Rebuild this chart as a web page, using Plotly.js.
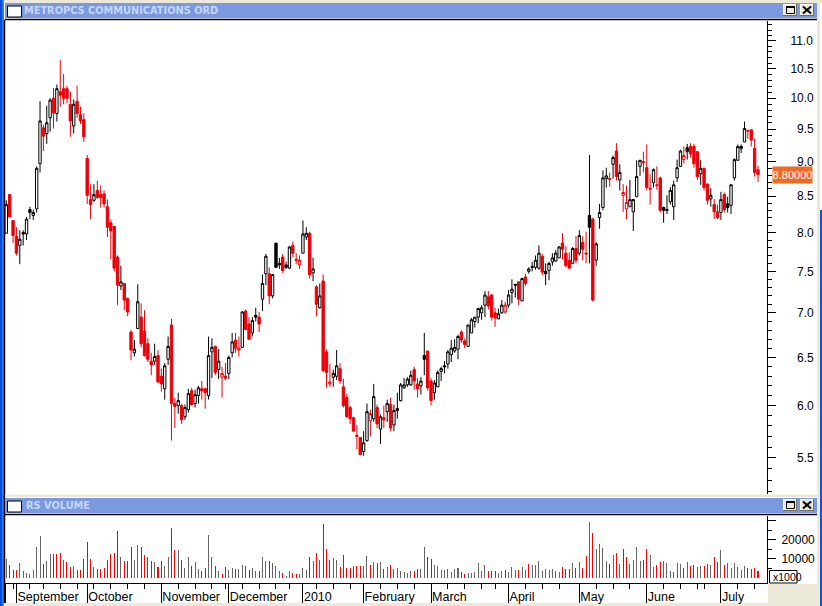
<!DOCTYPE html>
<html><head><meta charset="utf-8">
<script src="https://cdn.plot.ly/plotly-3.0.1.min.js"></script>
<style>html,body{margin:0;padding:0;background:#fff}#c{width:822px;height:606px}</style>
</head><body><div id="c"></div>
<script>
var opens=[7.99,8.52,8.16,7.95,7.83,8.00,7.98,8.31,8.23,8.32,
8.97,9.52,9.43,9.68,10.00,9.75,10.11,10.16,10.16,9.90,
9.55,9.95,9.73,9.65,9.05,8.45,8.44,8.58,8.52,8.53,
8.35,8.13,8.08,7.68,7.32,7.35,7.17,6.78,6.55,6.82,
6.95,6.79,6.65,6.46,6.46,6.52,6.30,6.17,6.48,6.86,
6.02,6.00,6.00,5.89,5.96,6.15,6.02,6.10,6.17,6.17,
6.10,6.56,6.62,6.37,6.29,6.30,6.33,6.55,6.69,6.58,
6.61,7.02,6.87,6.77,6.97,6.95,7.16,7.47,7.47,7.20,
7.86,7.60,7.68,7.58,7.54,7.83,7.65,7.58,7.73,7.94,
7.99,7.48,7.31,7.06,7.38,6.56,6.22,6.29,6.30,6.38,
6.19,6.08,5.98,5.88,5.71,5.69,5.56,5.66,5.85,5.87,
5.98,5.77,5.88,5.94,6.01,5.81,5.97,6.05,6.18,6.21,
6.21,6.37,6.22,6.20,6.52,6.57,6.25,6.13,6.19,6.35,
6.41,6.43,6.53,6.57,6.59,6.78,6.68,6.62,6.77,6.90,
6.95,7.00,7.09,7.19,7.21,7.00,6.93,7.00,7.01,7.09,
7.24,7.34,7.37,7.14,7.43,7.50,7.56,7.55,7.54,7.69,
7.50,7.51,7.62,7.63,7.67,7.86,7.73,7.64,7.60,7.79,
7.73,7.87,7.73,8.23,8.18,7.64,8.20,8.34,8.75,8.75,
8.96,9.16,8.73,8.51,8.32,8.35,8.28,8.49,8.93,9.00,
8.91,8.61,8.69,8.66,8.76,8.34,8.31,8.42,8.35,8.76,
8.93,9.03,9.21,9.23,9.23,9.15,8.82,8.90,8.67,8.46,
8.38,8.28,8.27,8.52,8.39,8.37,8.76,9.02,9.23,9.30,
9.48,9.49,9.20,8.88];
var highs=[8.44,8.52,8.16,8.07,8.03,8.03,8.21,8.35,8.31,8.93,
9.95,9.57,9.87,10.00,10.17,10.23,10.66,10.41,10.21,10.11,
9.98,10.21,9.86,9.75,9.10,8.67,8.67,8.72,8.65,8.58,
8.45,8.17,8.08,7.70,7.57,7.35,7.18,6.80,6.69,7.34,
7.11,7.03,6.71,6.55,6.65,6.58,6.38,6.44,6.73,6.93,
6.08,6.13,6.02,6.01,6.17,6.18,6.16,6.20,6.25,6.18,
6.73,6.71,6.63,6.59,6.40,6.44,6.52,6.77,6.77,6.73,
7.02,7.04,6.95,6.95,7.06,7.01,7.46,7.72,7.55,7.46,
7.86,7.67,7.72,7.62,7.82,7.88,7.73,7.70,8.16,8.07,
8.01,7.67,7.33,7.35,7.46,6.58,6.43,6.37,6.58,6.44,
6.27,6.12,6.00,5.89,5.81,5.69,5.75,6.02,5.96,6.22,
6.01,5.91,6.00,6.06,6.08,6.01,6.13,6.23,6.28,6.29,
6.36,6.40,6.28,6.29,6.77,6.57,6.28,6.26,6.36,6.40,
6.46,6.58,6.69,6.70,6.75,6.80,6.71,6.86,6.94,6.95,
7.06,7.09,7.26,7.26,7.22,7.06,7.05,7.15,7.13,7.27,
7.40,7.34,7.37,7.42,7.47,7.55,7.62,7.70,7.83,7.72,
7.60,7.62,7.73,7.77,7.82,7.99,7.82,7.74,7.81,7.95,
8.03,7.95,8.01,9.10,8.20,7.87,8.39,8.87,8.91,8.84,
9.09,9.28,8.96,8.67,8.65,8.73,8.46,9.02,9.02,9.15,
9.26,8.81,8.90,8.93,8.78,8.35,8.51,8.63,8.72,9.03,
9.18,9.23,9.27,9.28,9.27,9.16,9.02,8.91,8.68,8.61,
8.46,8.38,8.56,8.55,8.49,8.67,9.05,9.26,9.26,9.62,
9.49,9.49,9.35,8.94];
var lows=[7.99,8.21,7.86,7.70,7.59,7.83,7.90,8.18,8.17,8.27,
8.84,9.16,9.27,9.46,9.51,9.62,9.86,9.90,9.92,9.38,
9.43,9.68,9.58,9.30,8.39,8.18,8.42,8.46,8.34,8.34,
7.94,7.65,7.50,7.09,7.27,7.03,6.96,6.47,6.51,6.82,
6.61,6.51,6.45,6.31,6.42,6.23,6.14,6.06,6.42,5.66,
5.78,5.92,5.82,5.86,5.93,6.00,5.98,6.02,6.06,5.97,
6.06,6.28,6.31,6.27,6.08,6.26,6.27,6.50,6.55,6.51,
6.61,6.80,6.69,6.73,6.90,6.78,7.02,7.33,7.10,7.17,
7.54,7.53,7.48,7.53,7.53,7.68,7.59,7.53,7.73,7.90,
7.41,7.38,6.96,7.05,6.34,6.18,6.19,6.19,6.26,6.22,
5.98,5.88,5.82,5.75,5.58,5.53,5.52,5.65,5.70,5.84,
5.78,5.63,5.78,5.84,5.75,5.75,5.87,6.04,6.17,6.19,
6.20,6.16,6.08,6.11,6.31,6.15,6.00,6.06,6.19,6.25,
6.33,6.38,6.45,6.55,6.48,6.66,6.60,6.62,6.77,6.83,
6.88,6.92,6.95,7.04,6.91,6.84,6.93,6.99,6.99,7.06,
7.11,7.18,7.09,7.14,7.32,7.47,7.50,7.52,7.52,7.45,
7.33,7.39,7.57,7.62,7.67,7.65,7.55,7.54,7.59,7.60,
7.70,7.64,7.60,7.60,7.13,7.57,8.05,8.30,8.62,8.63,
8.75,8.72,8.58,8.28,8.18,8.35,8.02,8.49,8.79,8.84,
8.58,8.38,8.62,8.59,8.27,8.13,8.25,8.38,8.17,8.70,
8.93,8.97,9.03,9.06,8.91,8.73,8.66,8.58,8.38,8.35,
8.18,8.18,8.17,8.27,8.27,8.25,8.72,9.02,9.13,9.30,
9.35,9.23,8.78,8.70];
var closes=[8.38,8.21,7.96,7.73,7.91,7.98,8.18,8.27,8.27,8.90,
9.63,9.39,9.60,9.97,9.76,10.16,10.05,10.00,10.00,9.63,
9.90,9.75,9.63,9.38,8.51,8.38,8.52,8.48,8.48,8.39,
8.07,8.02,7.54,7.33,7.37,7.15,7.01,6.58,6.59,7.13,
6.65,6.52,6.48,6.42,6.51,6.24,6.22,6.41,6.62,6.02,
5.99,6.05,5.86,5.98,6.12,6.01,6.11,6.18,6.15,6.13,
6.52,6.61,6.34,6.46,6.33,6.28,6.50,6.67,6.60,6.60,
7.01,6.81,6.70,6.91,6.95,6.87,7.35,7.69,7.20,7.46,
7.55,7.58,7.51,7.55,7.81,7.73,7.64,7.64,7.98,7.99,
7.46,7.53,7.10,7.20,6.36,6.34,6.24,6.33,6.41,6.25,
6.00,5.89,5.87,5.75,5.70,5.53,5.64,5.94,5.92,6.09,
5.82,5.89,5.86,6.02,5.78,5.95,5.95,6.21,6.21,6.27,
6.31,6.25,6.17,6.25,6.48,6.18,6.05,6.23,6.34,6.38,
6.40,6.56,6.60,6.61,6.73,6.69,6.64,6.86,6.92,6.95,
7.05,7.06,7.21,7.08,6.95,6.94,6.99,7.09,7.09,7.21,
7.28,7.33,7.16,7.41,7.35,7.53,7.55,7.64,7.73,7.49,
7.47,7.60,7.67,7.73,7.81,7.78,7.57,7.54,7.79,7.64,
7.96,7.78,7.72,8.07,7.15,7.85,8.27,8.76,8.79,8.74,
9.06,8.78,8.84,8.55,8.41,8.45,8.45,8.78,9.02,8.99,
8.62,8.60,8.88,8.65,8.30,8.30,8.30,8.58,8.66,8.91,
9.16,9.09,9.15,9.12,8.97,8.78,8.90,8.62,8.44,8.51,
8.28,8.20,8.45,8.31,8.34,8.66,9.03,9.23,9.20,9.51,
9.47,9.33,8.84,8.81];
var candleRed=[0,1,1,1,0,0,0,0,0,0, 0,1,0,0,1,0,1,1,1,1, 0,1,1,1,1,1,0,1,1,1,
1,1,1,1,0,1,1,1,0,0, 1,1,1,1,0,1,1,0,0,1, 1,0,1,0,0,1,0,0,1,1,
0,0,1,0,1,1,0,0,1,1, 0,1,1,0,0,1,0,0,1,0, 0,0,1,0,0,1,1,1,0,0,
1,0,1,0,1,1,1,0,0,1, 1,1,1,1,1,1,0,0,1,0, 1,0,1,0,1,0,0,0,0,0,
0,1,1,0,0,1,1,0,0,0, 0,0,0,0,0,1,1,0,0,0, 0,0,0,1,1,1,0,0,1,0,
0,0,1,0,1,0,0,0,0,1, 0,0,0,0,0,1,1,1,0,1, 0,1,1,0,1,0,0,0,0,1,
0,1,0,1,1,0,0,0,0,1, 1,1,0,1,1,0,0,0,0,0, 0,1,0,1,1,1,0,1,1,0,
1,1,0,1,0,0,0,0,0,0, 1,1,1,1];
var volumes=[9800,6700,4000,4000,7700,3500,2500,1900,4000,16100,
21900,7200,8800,12500,12500,12500,13000,9300,8200,5600,
6100,4000,4000,9800,18800,9800,5600,4600,4600,5100,
9300,12500,13000,24600,10900,8800,8800,16100,9300,17200,
16100,11900,10900,8800,8200,5600,8800,6100,10900,26100,
14600,14600,9300,5100,10900,6100,8200,4600,3500,5100,
22500,10900,6100,3500,1900,5600,4000,5100,4600,4600,
6700,6100,4000,5100,3500,3500,10900,8800,8800,7700,
6100,3500,2500,900,3500,2500,1900,1900,5100,4000,
10900,8800,13000,9300,28200,15100,9300,10300,9300,5600,
11900,5100,5100,6100,6100,6100,6100,11400,6700,8200,
7700,8200,4600,5600,6700,4600,5100,3500,3000,2500,
3500,3500,4600,4600,16100,10900,9800,6700,6100,4000,
4000,4600,3000,4600,5100,3000,1900,2500,2500,3000,
7700,3500,6700,3500,3500,3500,2500,3500,4000,3000,
5600,4000,4000,5600,4000,7200,6700,6700,8800,3500,
4600,4000,4600,3500,3000,5600,4600,4600,7700,5100,
8200,5100,11400,29300,23500,15100,17700,15600,8800,7200,
11900,13000,7200,15100,10900,7200,9300,16100,8800,9300,
15100,11900,5600,6700,8200,8800,7700,3500,3000,7700,
7200,5100,8200,6100,6700,5600,6100,6100,7200,6700,
10900,8200,14600,6700,7700,5100,7700,5600,4000,6100,
5100,4600,5100,3500];
var volumeRed=[0,1,1,1,0,0,0,0,0,0, 0,1,0,0,1,1,1,0,1,1, 0,1,1,1,1,1,0,1,1,1,
1,1,1,1,0,1,1,1,0,0, 1,1,1,1,0,1,1,0,0,1, 1,0,1,0,0,1,0,0,1,1,
0,0,1,0,1,1,0,0,1,0, 0,1,1,0,0,1,0,0,1,0, 0,0,1,0,0,1,1,0,0,0,
1,0,1,0,1,1,1,0,0,1, 1,1,1,1,1,1,0,0,1,0, 1,0,1,0,1,0,0,0,0,0,
0,1,1,0,0,1,1,0,0,0, 0,0,0,0,0,1,1,0,0,0, 0,0,0,1,1,1,0,0,1,0,
0,0,1,0,0,1,0,0,0,0, 0,0,0,0,0,1,1,1,0,1, 0,1,1,0,1,0,0,0,0,1,
0,1,0,1,1,0,0,0,0,1, 1,0,0,1,1,0,0,0,0,0, 0,1,0,1,1,0,0,1,1,0,
1,1,0,1,0,0,0,0,0,0, 1,1,1,1];
var monthTicks=[-0.38,3,24,46,66,88,106,126,149,170,190,212];
var monthLabels=['','September','October','November','December','2010','February','March','April','May','June','July'];
var weekTicks=[2,7,11,16,21,26,31,36,41,51,56,61,65,70,75,80,84,92,97,102,111,116,121,131,136,141,145,154,159,164,175,180,185,195,200,205,207,217,222];
var priceTicks=[5.5,6,6.5,7,7.5,8,8.5,9,9.5,10,10.5,11];
var priceLabels=['\u00a0\u00a05.5','\u00a0\u00a06.0','\u00a0\u00a06.5','\u00a0\u00a07.0','\u00a0\u00a07.5','\u00a0\u00a08.0','\u00a0\u00a08.5','\u00a0\u00a09.0','\u00a0\u00a09.5','10.0','10.5','11.0'];
var priceMinor=[5.2,5.3,5.4,5.6,5.7,5.8,5.9,6.1,6.2,6.3,6.4,6.6,6.7,6.8,6.9,7.1,7.2,7.3,7.4,7.6,7.7,7.8,7.9,8.1,8.2,8.3,8.4,8.6,8.7,8.8,8.9,9.1,9.2,9.3,9.4,9.6,9.7,9.8,9.9,10.1,10.2,10.3,10.4,10.6,10.7,10.8,10.9,11.1,11.2,11.3];
var volTicks=[10000,20000,30000];
var volLabels=['10000','20000',''];
var volMinor=[5000,15000,25000];
var lastPrice=8.8;

var BLACK='#000000',RED='#ea0008',GREY='#666666',VRED='#ff0000',BEIGE='#ece9d8',BAR='#7b99e0',TXT='#c6d6f8';
var idx=opens.map(function(_,i){return i;});
function subset(flag,arr){return arr.filter(function(_,i){return candleRed[i]===flag;});}
function candle(flag,col,down){
  return {type:'candlestick',x:subset(flag,idx),open:subset(flag,opens),high:subset(flag,highs),low:subset(flag,lows),close:subset(flag,closes),
    xaxis:'x',yaxis:'y',whiskerwidth:0,hoverinfo:'skip',showlegend:false,
    increasing:{line:{color:col,width:1},fillcolor:'#ffffff'},
    decreasing:{line:{color:col,width:1},fillcolor:down}};
}
var traces=[candle(0,BLACK,BLACK),candle(1,RED,RED),
  {type:'bar',x:idx,y:volumes,width:0.3,xaxis:'x',yaxis:'y2',showlegend:false,hoverinfo:'skip',
   marker:{color:volumeRed.map(function(r){return r?VRED:GREY;}),line:{width:0}}}];

/* window chrome, in screen pixels, mapped to paper coordinates */
var L=5,R=767,T=21,B=583;
function X(p){return (p-L)/(R-L);} function Y(p){return (B-p)/(B-T);}
function rect(x0,y0,x1,y1,fill,line){return {type:'rect',xref:'paper',yref:'paper',x0:X(x0),x1:X(x1),y0:Y(y0),y1:Y(y1),fillcolor:fill,line:line?{color:line,width:1}:{width:0},layer:'below'};}
function seg(x0,y0,x1,y1,c,w){return {type:'line',xref:'paper',yref:'paper',x0:X(x0),x1:X(x1),y0:Y(y0),y1:Y(y1),line:{color:c||BLACK,width:w||1},layer:'below'};}
function bar(y0){
  var s=[rect(5,y0,817,y0+15,BAR),seg(5,y0+16.5,817,y0+16.5,BLACK,1.5),rect(7.5,y0+3,21.5,y0+14,'#ffffff',BLACK)];
  [783,800].forEach(function(x,k){
    s.push(rect(x,y0+1,x+14,y0+13,'#716f64'),rect(x,y0+1,x+13,y0+12,'#ffffff'),rect(x+1,y0+2,x+13,y0+12,BEIGE));
    if(k===0){s.push(rect(x+3.5,y0+3.5,x+11.5,y0+10.5,BEIGE,BLACK),seg(x+3,y0+4,x+12,y0+4,BLACK,2));}
    else{s.push(seg(x+3,y0+3.5,x+11,y0+10.5,BLACK,2),seg(x+11,y0+3.5,x+3,y0+10.5,BLACK,2));}
  });
  return s;
}
var shapes=[rect(0,0,822,3,BEIGE),rect(817,0,820,606,BEIGE),rect(0,0,2,606,'#0a4cd6'),rect(2,0,4,606,'#2a7cf5'),
  rect(820,210,822,606,'#0a55e0'),seg(4.5,20,4.5,603,BLACK,1.5),
  rect(5,494.5,817,497,BEIGE),rect(768,584,817,603,BEIGE),rect(5,603,820,606,BEIGE)]
  .concat(bar(3)).concat(bar(498));
shapes.push(Object.assign(rect(769.5,570.5,797,583,'#ffffff',BLACK),{layer:'above'}));

var font={family:'"Liberation Sans",Arial,sans-serif',size:12,color:BLACK};
var layout={width:822,height:606,margin:{l:L,r:822-R,t:T,b:606-B,pad:0},
  paper_bgcolor:'#ffffff',plot_bgcolor:'#ffffff',showlegend:false,font:font,dragmode:false,bargap:0,boxmode:'overlay',boxgap:0.3,boxgroupgap:0,
  title:{text:'METROPCS COMMUNICATIONS ORD',x:24/822,xanchor:'left',y:1-11/606,yanchor:'middle',font:{family:'"DejaVu Sans",sans-serif',size:9.8,weight:700,color:TXT},pad:{t:0,b:0,l:0,r:0}},
  xaxis:{anchor:'y2',domain:[0,1],range:[-0.39,225.67],rangeslider:{visible:false},showgrid:false,zeroline:false,
    showline:true,linecolor:BLACK,linewidth:1,ticks:'outside',ticklen:19,tickwidth:1,tickcolor:BLACK,
    tickmode:'array',tickvals:monthTicks,ticktext:monthLabels,ticklabelposition:'outside right',ticklabelstandoff:2,tickfont:{family:font.family,size:12.5,color:BLACK},tickangle:0,
    minor:{tickmode:'array',tickvals:weekTicks,ticks:'outside',ticklen:5,tickwidth:1,tickcolor:BLACK,showgrid:false}},
  yaxis:{type:'log',domain:[Y(494),1],anchor:'x',side:'right',range:[Math.log10(5.18),Math.log10(11.37)],showgrid:false,zeroline:false,
    showline:true,linecolor:BLACK,linewidth:1,ticks:'outside',ticklen:8,tickwidth:1,tickcolor:BLACK,
    tickmode:'array',tickvals:priceTicks,ticktext:priceLabels,ticklabelstandoff:12,tickfont:font,
    minor:{tickmode:'array',tickvals:priceMinor,ticks:'outside',ticklen:4,tickwidth:1,tickcolor:BLACK,showgrid:false}},
  yaxis2:{domain:[0,Y(516)],anchor:'x',side:'right',range:[-2630,32600],showgrid:false,zeroline:false,
    showline:true,linecolor:BLACK,linewidth:1,ticks:'outside',ticklen:8,tickwidth:1,tickcolor:BLACK,
    tickmode:'array',tickvals:volTicks,ticktext:volLabels,ticklabelstandoff:3,tickfont:font,
    minor:{tickmode:'array',tickvals:volMinor,ticks:'outside',ticklen:4,tickwidth:1,tickcolor:BLACK,showgrid:false}},
  shapes:shapes,
  annotations:[
    {xref:'paper',yref:'paper',x:X(24),y:Y(505.5),xanchor:'left',yanchor:'middle',showarrow:false,text:'RS VOLUME',font:{family:'"DejaVu Sans",sans-serif',size:9.8,weight:700,color:TXT}},
    {xref:'paper',yref:'y',x:X(772),y:Math.log10(lastPrice),xanchor:'left',yanchor:'middle',showarrow:false,text:lastPrice.toFixed(5),font:{family:font.family,size:11,color:'#ffffff'},bgcolor:'#f26a21',width:39,height:16,borderpad:0,align:'center'},
    {xref:'paper',yref:'paper',x:X(770.5),y:Y(577),xanchor:'left',yanchor:'middle',showarrow:false,text:'x1000',font:{family:font.family,size:10.5,color:BLACK}}
  ]};
Plotly.newPlot('c',traces,layout,{staticPlot:true,displayModeBar:false});
</script></body></html>
